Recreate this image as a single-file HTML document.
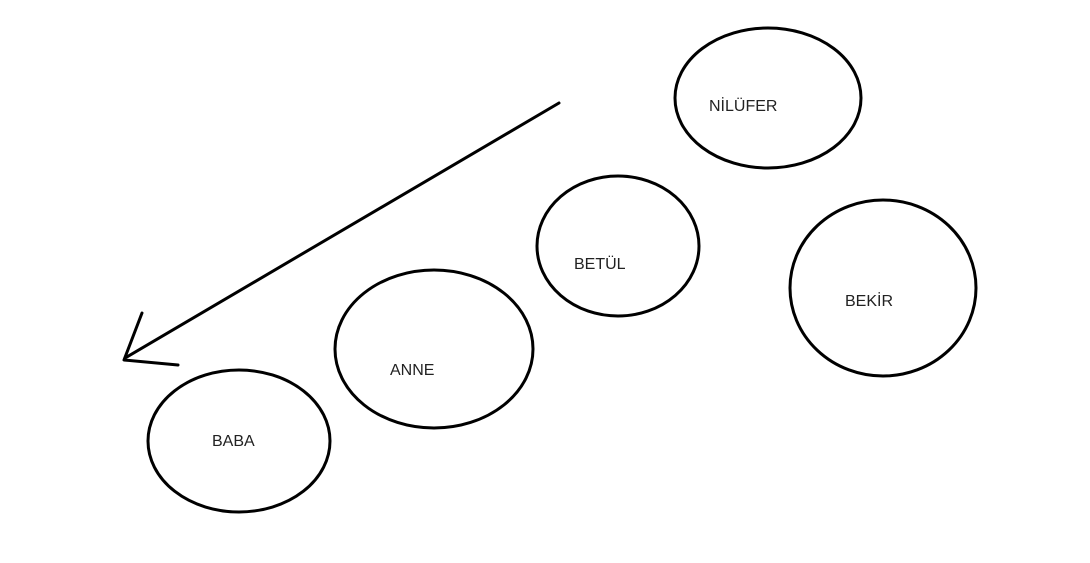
<!DOCTYPE html>
<html><head><meta charset="utf-8"><style>
html,body{margin:0;padding:0;background:#fff;}
svg{display:block;}
text{font-family:"Liberation Sans",sans-serif;font-size:16px;fill:#222;}
</style></head><body>
<svg width="1090" height="563" viewBox="0 0 1090 563" xmlns="http://www.w3.org/2000/svg">
<g fill="none" stroke="#000" stroke-width="3">
<ellipse cx="768" cy="98" rx="93" ry="70"/>
<ellipse cx="618" cy="246" rx="81" ry="70"/>
<ellipse cx="883" cy="288" rx="93" ry="88"/>
<ellipse cx="434" cy="349" rx="99" ry="79"/>
<ellipse cx="239" cy="441" rx="91" ry="71"/>
<line x1="559" y1="103" x2="125" y2="358" stroke-linecap="round"/>
<polyline points="142,313 124,360 178,365" stroke-linecap="round" stroke-linejoin="round"/>
</g>
<text x="709" y="111">NİLÜFER</text>
<text x="574" y="269">BETÜL</text>
<text x="845" y="306">BEKİR</text>
<text x="390" y="375">ANNE</text>
<text x="212" y="446">BABA</text>
</svg>
</body></html>
